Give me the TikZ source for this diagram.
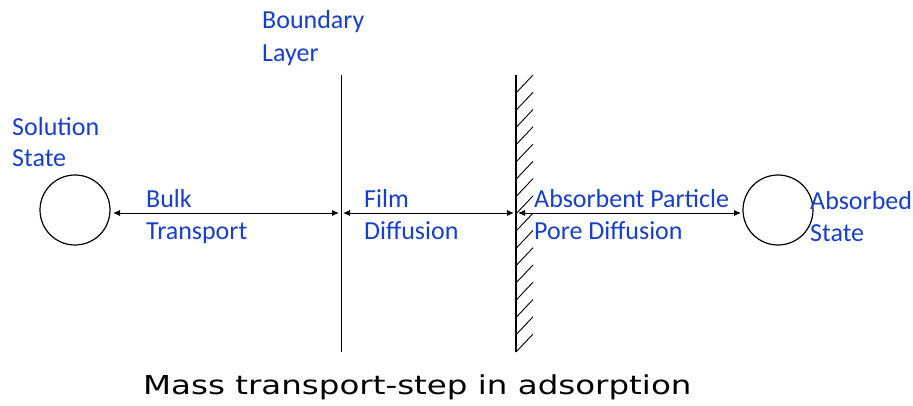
\documentclass[tikz,border=0pt]{standalone}
\usepackage{fontspec}
\setmainfont{Carlito}
\newfontfamily\titlefont{DejaVu Sans}
\usetikzlibrary{arrows.meta,calc}
\definecolor{labelblue}{RGB}{24,62,204}
\begin{document}
\begin{tikzpicture}[x=1pt,y=-1pt,
  lbl/.style={anchor=base west,inner sep=0pt,text=labelblue,font=\fontsize{26}{30}\selectfont},
  statecirc/.style={draw,line width=1.2pt,circle,minimum size=70pt,inner sep=0pt},
  flow/.style={{Latex[length=7pt,width=6pt]}-{Latex[length=7pt,width=6pt]},line width=0.9pt},
  hatch/.style={line width=0.9pt}]
\useasboundingbox (0,0) rectangle (913,406);

% phases
\node[statecirc] (sol) at (75,210) {};
\node[statecirc] (ads) at (778,210) {};

% boundary layer and particle surface
\coordinate (blTop) at (341,75);
\coordinate (blBot) at (341,352);
\draw[line width=0.7pt] (blTop) -- (blBot);
\coordinate (wTop) at (516,75);
\coordinate (wBot) at (516,352);
\draw[line width=1.4pt] (wTop) -- (wBot);
\foreach \k in {0,...,15}{
  \draw[hatch] ($(wTop)+(0,18+17.27*\k)$) -- ++(17,-18);
}

% transport steps
\coordinate (a1) at (113,213);
\coordinate (b1) at (339,213);
\coordinate (a2) at (343,213);
\coordinate (b2) at (514,213);
\coordinate (a3) at (518,213);
\coordinate (b3) at (741,213);
\draw[flow] (a1) -- (b1);
\draw[flow] (a2) -- (b2);
\draw[flow] (a3) -- (b3);

% labels
\node[lbl] (t1) at (262,29) {Boundary};
\node[lbl] (t2) at (262,62) {Layer};
\node[lbl] (t3) at (12,136) {Solution};
\node[lbl] (t4) at (12,167) {State};
\node[lbl] (t5) at (146,208) {Bulk};
\node[lbl] (t6) at (146,240) {Transport};
\node[lbl] (t7) at (364,208) {Film};
\node[lbl] (t8) at (364,240) {Diffusion};
\node[lbl] (t9) at (534,208) {Absorbent Particle};
\node[lbl] (t10) at (534,240) {Pore Diffusion};
\node[lbl] (t11) at (810,210) {Absorbed};
\node[lbl] (t12) at (810,242) {State};

% caption
\node[anchor=base west,inner sep=0pt,font=\titlefont\fontsize{26}{30}\selectfont] (cap) at (143,394) {\scalebox{1.25}[1]{Mass transport-step in adsorption}};
\end{tikzpicture}
\end{document}
